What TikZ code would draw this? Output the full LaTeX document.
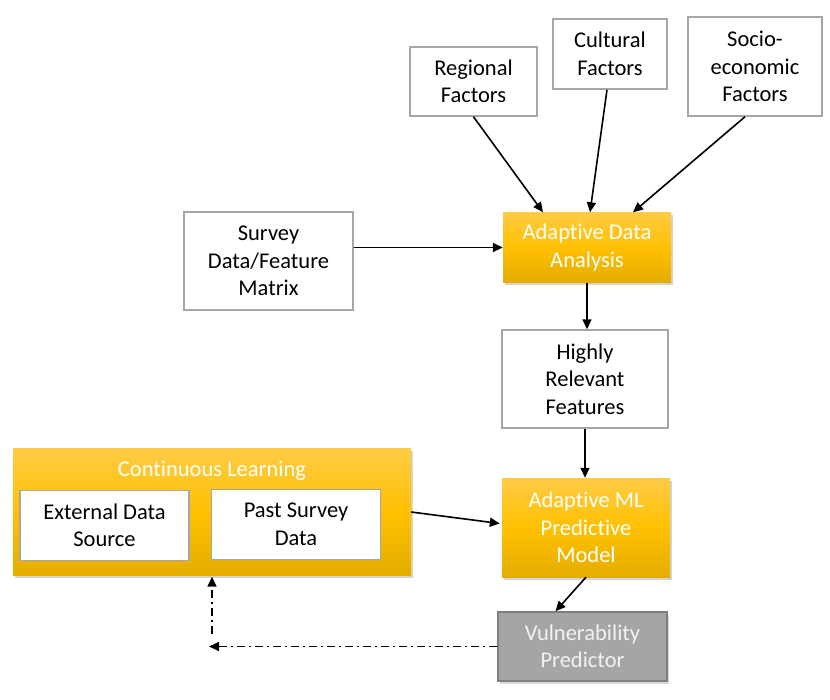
\documentclass[tikz,border=0pt]{standalone}
\usepackage{fontspec}
\setmainfont[Ligatures=NoCommon]{Carlito}
\usetikzlibrary{shadows,arrows.meta}
\definecolor{goldT}{HTML}{FFCB45}
\definecolor{goldM}{HTML}{FFC000}
\definecolor{goldB}{HTML}{E4AD00}
\definecolor{wborder}{HTML}{A6A6A6}
\definecolor{greyfill}{HTML}{A5A5A5}
\definecolor{greyborder}{HTML}{7F7F7F}
\begin{document}
\begin{tikzpicture}[x=1pt,y=-1pt,
  every node/.style={font=\fontsize{22.5}{27.5}\selectfont, align=center, inner sep=2pt},
  whitebox/.style={draw=wborder, line width=1.5pt, fill=white, text=black},
  goldbox/.style={top color=goldT, bottom color=goldB, middle color=goldM, draw=none, text=white,
     drop shadow={opacity=0.35, shadow xshift=2pt, shadow yshift=-2.5pt}},
  greybox/.style={fill=greyfill, draw=greyborder, line width=1.5pt, text=white!95!black,
     drop shadow={opacity=0.3, shadow xshift=2pt, shadow yshift=-2.5pt}},
  arr/.style={draw=black, line width=1.6pt, -{Triangle[length=10pt,width=9pt]}},
  dd/.style={arr, dash pattern=on 8pt off 4pt on 2pt off 4pt}
]
\useasboundingbox (0,0) rectangle (830,699);

% top factors
\node[whitebox, minimum width=127pt, minimum height=69pt] (reg) at (473.5,81.5) {Regional\\Factors};
\node[whitebox, minimum width=114pt, minimum height=70pt] (cult) at (610,54) {Cultural\\Factors};
\node[whitebox, minimum width=134pt, minimum height=99pt] (socio) at (755,66.5) {Socio-\\economic\\Factors};

% survey + analysis
\node[whitebox, minimum width=169pt, minimum height=98pt] (survey) at (268.5,261) {Survey\\Data/Feature\\Matrix};
\node[goldbox, minimum width=168pt, minimum height=70pt] (ada) at (587,247.5) {Adaptive Data\\Analysis};

\node[whitebox, minimum width=166pt, minimum height=98pt] (hrf) at (585,379) {Highly\\Relevant\\Features};
\node[goldbox, minimum width=168pt, minimum height=99pt] (ml) at (586,527.5) {Adaptive ML\\Predictive\\Model};

% continuous learning
\node[goldbox, minimum width=398pt, minimum height=127pt] (cl) at (212,512) {};
\node[text=white] (cltitle) at (212,471) {Continuous Learning};
\node[whitebox, minimum width=169pt, minimum height=70pt] (ext) at (104.5,525.5) {External Data\\Source};
\node[whitebox, minimum width=169pt, minimum height=70pt] (past) at (296,524.5) {Past Survey\\Data};

\node[greybox, minimum width=169pt, minimum height=69pt] (vp) at (582.5,646.5) {Vulnerability\\Predictor};

\coordinate (fbh) at (209,646.5);
\coordinate (fbv) at (212,634);

% connectors
\draw[arr] (reg.south) -- ([xshift=-44pt]ada.north);
\draw[arr] ([xshift=-3pt]cult.south) -- ([xshift=3pt]ada.north);
\draw[arr] ([xshift=-10pt]socio.south) -- ([xshift=46pt]ada.north);
\draw[arr] (survey.east |- ada.west) -- (ada.west);
\draw[arr] (ada.south) -- (ada.south |- hrf.north);
\draw[arr] (hrf.south) -- (hrf.south |- ml.north);
\draw[arr] (cl.east) -- ([yshift=4pt,xshift=-2pt]ml.west);
\draw[arr] (ml.south) -- ([xshift=-27pt]vp.north);
\draw[dd] (vp.west) -- (fbh);
\draw[dd] (fbv) -- ([yshift=-1pt]fbv |- cl.south);
\end{tikzpicture}
\end{document}
